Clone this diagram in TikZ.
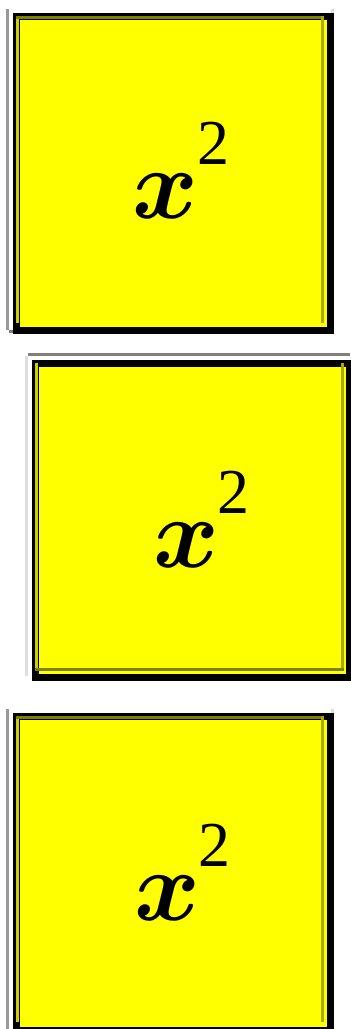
\documentclass[tikz,border=0pt]{standalone}
\usepackage{graphicx}
\usepackage{fontspec}
\setmainfont{Liberation Serif}
\definecolor{pureyellow}{RGB}{255,255,0}
\definecolor{oliveD}{RGB}{128,128,0}
\definecolor{oliveM}{RGB}{170,170,0}
\definecolor{oliveL}{RGB}{205,205,0}
\newcommand{\bigx}{\scalebox{10}{\boldmath$x$}}
\begin{document}
\begin{tikzpicture}[x=1pt,y=-1pt,
  box/.style={draw=black,fill=pureyellow,line width=7pt,inner sep=0pt,minimum width=314pt,minimum height=314pt,anchor=north west},
  xvar/.style={inner sep=0pt,anchor=base},
  sup/.style={inner sep=0pt,anchor=base,font=\fontsize{64}{64}\selectfont},
  oliveTop/.style={line width=3pt,color=oliveD},
  oliveSide/.style={line width=3pt,color=oliveM},
  oliveLeft/.style={line width=3pt,color=oliveL},
  grayd/.style={line width=3pt,color=black!50},
  grayl/.style={line width=3pt,color=black!13}]
\useasboundingbox (0,0) rectangle (351,1029);
% box 1
\draw[grayl,color=black!40] (7.5,9) -- (7.5,330);
\draw[grayl] (332.5,9) -- (332.5,332);
\draw[grayd] (9,331.5) -- (332,331.5);
\node[box] (b1) at (12.5,12.5) {};
\draw[oliveTop] (16,17.5) -- (323,17.5);
\draw[oliveLeft] (17.5,19) -- (17.5,323);
\draw[oliveSide] (322.5,16) -- (322.5,323);
\node[xvar] (x1) at (165.5,218) {\bigx};
\node[sup] (s1) at (213,164) {2};
% box 2
\draw[grayd] (28,354.5) -- (350,354.5);
\draw[grayl] (26.5,356) -- (26.5,676);
\node[box] (b2) at (31.5,359.5) {};
\draw[oliveLeft] (36.5,363) -- (36.5,670);
\draw[oliveSide] (342.5,363) -- (342.5,671);
\draw[oliveTop] (35,669.5) -- (344,669.5);
\node[xvar] (x2) at (186.5,567) {\bigx};
\node[sup] (s2) at (233,513) {2};
% box 3
\draw[grayl,color=black!40] (7.5,709) -- (7.5,1029);
\draw[grayl] (332.5,709) -- (332.5,1029);
\node[box] (b3) at (12.5,712.5) {};
\draw[oliveTop] (16,717.5) -- (323,717.5);
\draw[oliveLeft] (17.5,719) -- (17.5,1022);
\draw[oliveSide] (322.5,716) -- (322.5,1022);
\node[xvar] (x3) at (167.5,920) {\bigx};
\node[sup] (s3) at (214,866) {2};
\end{tikzpicture}
\end{document}
